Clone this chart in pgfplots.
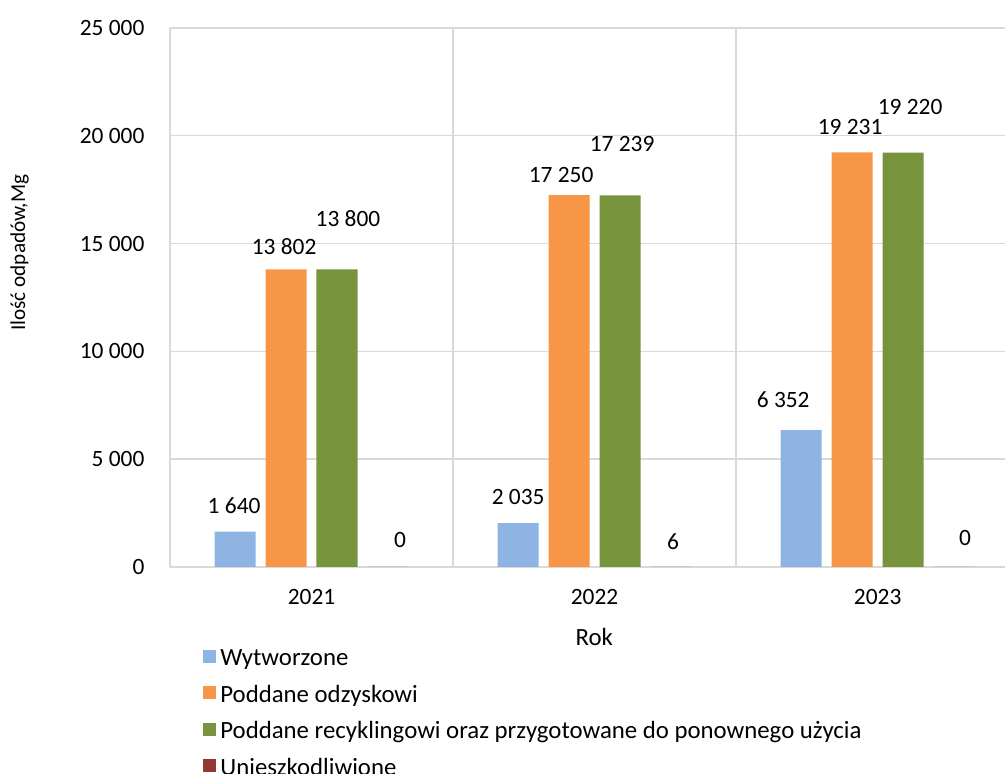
\documentclass[border=0pt]{standalone}
\usepackage{fontspec}
\setmainfont{Carlito}
\usepackage{pgfplots}
\pgfplotsset{compat=1.18}
\usepackage{pgfplotstable}

\definecolor{cblue}{HTML}{8EB4E3}
\definecolor{corange}{HTML}{F79646}
\definecolor{cgreen}{HTML}{77933C}
\definecolor{cred}{HTML}{953735}
\definecolor{cgrid}{HTML}{D9D9D9}

% x = year index, y = value, dx/dy = label offset in pt
\pgfplotstableread{
x y dx dy
0 1640 -0.5 13
1 2035 0 13
2 6352 -9 15
}\wytworzone
\pgfplotstableread{
x y dx dy
0 13802 -1 11.5
1 17250 -4 10
2 19231 -1 12.5
}\odzysk
\pgfplotstableread{
x y dx dy
0 13800 5.5 25.5
1 17239 1 25.5
2 19220 3.5 23
}\recykling
\pgfplotstableread{
x y dx dy
0 0 6 13.5
1 6 1 12.5
2 0 5.5 14.5
}\unieszk

\begin{document}
\fontsize{11.7}{14}\selectfont
\begin{tikzpicture}
\useasboundingbox (0,0) rectangle (502.5pt,-387pt);
\begin{axis}[
    at={(85pt,-14pt)}, anchor=north west,
    scale only axis,
    width=417.5pt, height=269.5pt,
    ybar, bar width=0.145,
    xmin=-0.5, xmax=2.45,
    ymin=0, ymax=25000,
    ytick={0,5000,...,25000},
    scaled y ticks=false,
    xtick={0,1,2},
    xticklabels={2021,2022,2023},
    extra x ticks={0.5,1.5},
    extra x tick labels={},
    extra x tick style={grid=major, major tick length=0pt},
    ymajorgrids,
    grid style={cgrid, line width=0.7pt},
    axis x line*=bottom, axis y line*=left,
    axis line style={-, cgrid, line width=0.7pt},
    tick style={draw=none},
    /pgf/number format/assume math mode=true,
    /pgf/number format/1000 sep={\ },
    yticklabel style={xshift=-8.7pt},
    xticklabel style={yshift=-3pt},
    xlabel={Rok},
    xlabel style={font=\fontsize{12.4}{14.5}\selectfont, at={(axis description cs:0.508,0)}, anchor=center, yshift=-35pt},
    ylabel={Ilość odpadów,Mg},
    ylabel style={font=\fontsize{10.6}{13}\selectfont, at={(axis description cs:-0.18,0.583)}, anchor=center},
    nodes near coords,
    visualization depends on={\thisrow{dx}\as\ldx},
    visualization depends on={\thisrow{dy}\as\ldy},
    every node near coord/.append style={anchor=center, xshift=\ldx pt, yshift=\ldy pt, text=black},
    legend cell align=left,
    legend style={draw=none, fill=none, at={(axis description cs:0.0395,-0.145)}, anchor=north west,
        row sep=3.9pt, inner sep=0pt, font=\fontsize{12.4}{14.5}\selectfont},
    sq/.style={legend image code/.code={\fill[##1] (0pt,-2.1pt) rectangle (6.5pt,4.4pt);}},
]
\addplot[fill=cblue, draw=none, bar shift=-0.27, sq] table[x=x, y=y] {\wytworzone};
\addlegendentry{Wytworzone}
\addplot[fill=corange, draw=none, bar shift=-0.09, sq] table[x=x, y=y] {\odzysk};
\addlegendentry{Poddane odzyskowi}
\addplot[fill=cgreen, draw=none, bar shift=0.09, sq] table[x=x, y=y] {\recykling};
\addlegendentry{Poddane recyklingowi oraz przygotowane do ponownego użycia}
\addplot[fill=cred, draw=none, bar shift=0.27, sq] table[x=x, y=y] {\unieszk};
\addlegendentry{Unieszkodliwione}
\end{axis}
\end{tikzpicture}
\end{document}
